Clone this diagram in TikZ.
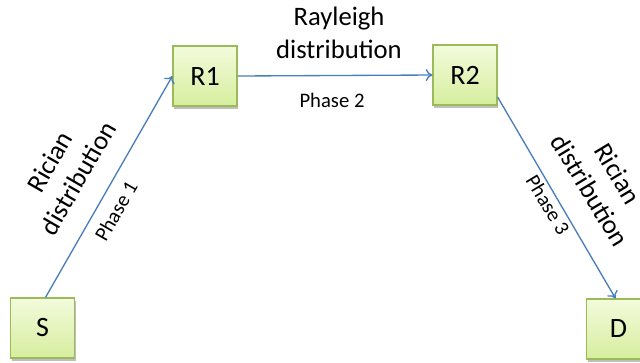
\documentclass[tikz,border=0pt]{standalone}
\usepackage{fontspec}
\setmainfont{Carlito}
\usetikzlibrary{arrows.meta,calc,shadows}
\definecolor{nodeedge}{HTML}{9BBB59}
\definecolor{nodetop}{HTML}{F3FBDC}
\definecolor{nodebottom}{HTML}{D6EE9E}
\definecolor{linkblue}{HTML}{4A7EBB}
\tikzset{
  hop/.style={draw=nodeedge, line width=0.9pt, top color=nodetop, bottom color=nodebottom,
    minimum width=48pt, minimum height=45pt, inner sep=0pt, font=\fontsize{21}{24}\selectfont,
    drop shadow={shadow xshift=1pt, shadow yshift=-2pt, opacity=0.25, fill=black}},
  link/.style={draw=linkblue, line width=1pt, -{To[length=5pt,width=9pt]}},
  biglabel/.style={align=center, font=\fontsize{20}{24.5}\selectfont, inner sep=0pt},
  phaselabel/.style={font=\fontsize{15.5}{18}\selectfont, inner sep=0pt}
}
\begin{document}
\begin{tikzpicture}[x=0.75pt, y=-0.75pt]
  \useasboundingbox (0,0) rectangle (640,362);
  \node[hop] (S)  at (42.5,328) {S};
  \node[hop] (R1) at (205,76)   {R1};
  \node[hop] (R2) at (465,75)   {R2};
  \node[hop] (D)  at (618.5,329) {D};

  \coordinate (R2out) at ($(R2.east)+(0,22)$);
  \draw[link] ($(S.north)+(3,0)$) -- (R1.west);
  \draw[link] (R1.east) -- (R2.west);
  \draw[link] (R2out) -- ($(D.north)+(-3,0)$);

  \node[biglabel] (rayleigh) at (339,33) {Rayleigh\\distribution};
  \node[phaselabel] (phase2) at (332,100) {Phase 2};

  \node[biglabel, rotate=60] (ricianL) at (64,170) {Rician\\distribution};
  \node[phaselabel, rotate=60] (phase1) at (116,211) {Phase 1};

  \node[biglabel, rotate=-59] (ricianR) at (604,182) {Rician\\distribution};
  \node[phaselabel, rotate=-59] (phase3) at (548,205) {Phase 3};
\end{tikzpicture}
\end{document}
